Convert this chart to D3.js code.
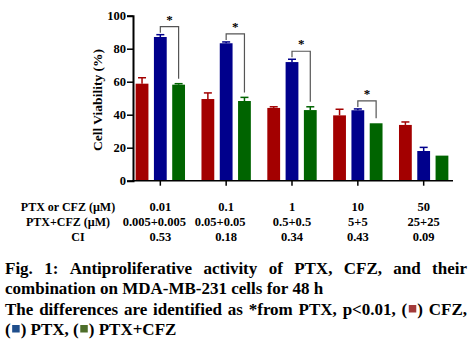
<!DOCTYPE html>
<html><head><meta charset="utf-8">
<script src="https://cdn.jsdelivr.net/npm/d3@7"></script>
<style>body{margin:0;background:#fff}svg{display:block}text{font-family:"Liberation Serif","Times New Roman",serif;font-weight:bold}</style>
</head><body>
<svg id="c" width="473" height="342"></svg>
<script>
const groups = ["0.01","0.1","1","10","50"];
const comboLabels = ["0.005+0.005","0.05+0.05","0.5+0.5","5+5","25+25"];
const ciLabels = ["0.53","0.18","0.34","0.43","0.09"];
const rowLabels = ["PTX or CFZ (µM)","PTX+CFZ (µM)","CI"];
const seriesNames = ["CFZ","PTX","PTX+CFZ"];
const cfz = [58.8, 49.5, 44.1, 39.6, 33.8];
const cfzErr = [3.6, 3.7, 0.7, 3.7, 1.8];
const ptx = [87.1, 83.3, 71.9, 42.7, 18.0];
const ptxErr = [1.4, 0.8, 1.7, 0.8, 2.2];
const combo = [58.2, 48.3, 42.8, 34.8, 15.2];
const comboErr = [0.6, 2.2, 2.0, 0, 0];
const significant = [true, true, true, true, false];
const yTicks = [0,20,40,60,80,100];

const barColors = ["#a30000","#00008c","#006400"];
const legendColors = ["#a33a3a","#1f4e8c","#4e6e2a"];
const FONT = "Liberation Serif";
const svg = d3.select("#c");
const x0 = d3.scaleBand().domain(groups).range([133, 451]).paddingInner(0.25).paddingOuter(0.04);
const x1 = d3.scaleBand().domain(seriesNames).range([0, x0.bandwidth()]).paddingInner(0.3);
const y = d3.scaleLinear().domain([0,100]).range([180.7, 15.7]);
const vals = [cfz, ptx, combo], errs = [cfzErr, ptxErr, comboErr];
function T(sel){return sel.attr("font-family",FONT).attr("font-weight","bold").attr("fill","#000");}

// bars
groups.forEach((g,i)=>{
  seriesNames.forEach((s,j)=>{
    const bx = x0(g)+x1(s), w = x1.bandwidth(), v = vals[j][i], e = errs[j][i];
    svg.append("rect").attr("x",bx).attr("y",y(v)).attr("width",w).attr("height",y(0)-y(v)).attr("fill",barColors[j]);
    if (e>0){
      const cx = bx+w/2;
      svg.append("line").attr("x1",cx).attr("x2",cx).attr("y1",y(v)).attr("y2",y(v+e)).attr("stroke",barColors[j]).attr("stroke-width",1.5);
      svg.append("line").attr("x1",cx-4).attr("x2",cx+4).attr("y1",y(v+e)).attr("y2",y(v+e)).attr("stroke",barColors[j]).attr("stroke-width",1.5);
    }
  });
});
// brackets
groups.forEach((g,i)=>{
  if(!significant[i]) return;
  const w = x1.bandwidth();
  const xl = x0(g)+x1("PTX")+w/2, xr = x0(g)+x1("PTX+CFZ")+w/2;
  const topL = y(ptx[i]+ptxErr[i]), topR = y(combo[i]+comboErr[i]);
  const yt = topL-8;
  svg.append("path").attr("d",`M${xl},${topL-2}V${yt}H${xr}V${topR-5}`).attr("fill","none").attr("stroke","#555").attr("stroke-width",1.2);
  T(svg.append("text")).attr("x",(xl+xr)/2).attr("y",yt-3).attr("text-anchor","middle").attr("font-size",13).text("*");
});
// axes
const yAxis = svg.append("g").attr("transform","translate(133,0)").call(d3.axisLeft(y).tickValues(yTicks).tickSize(6).tickPadding(1));
yAxis.attr("font-family",FONT);
yAxis.select(".domain").attr("stroke","#000").attr("stroke-width",2);
yAxis.selectAll(".tick line").attr("stroke","#000").attr("stroke-width",1.5);
T(yAxis.selectAll("text")).attr("font-size",12.5);
svg.append("line").attr("x1",132).attr("x2",453).attr("y1",y(0)).attr("y2",y(0)).attr("stroke","#000").attr("stroke-width",1.5);
groups.forEach(g=>{
  const cx = x0(g)+x1("PTX")+x1.bandwidth()/2;
  svg.append("line").attr("x1",cx).attr("x2",cx).attr("y1",y(0)).attr("y2",y(0)+5).attr("stroke","#000").attr("stroke-width",1.5);
});
T(svg.append("text")).attr("transform","translate(97,100) rotate(-90)").attr("text-anchor","middle").attr("dy","0.35em").attr("font-size",13.5).text("Cell Viability (%)");

// table rows
const rows = [[rowLabels[0],groups,206.7],[rowLabels[1],comboLabels,221.7],[rowLabels[2],ciLabels,236.7]];
rows.forEach(([lab,arr,yy],k)=>{
  T(svg.append("text")).attr("x",k===2?78:68).attr("y",yy).attr("dy","0.35em").attr("text-anchor","middle").attr("font-size",12).text(lab);
  arr.forEach((t,i)=>{
    const cx = x0(groups[i])+x1("PTX")+x1.bandwidth()/2 - (k===1 && i<2 ? 6 : 0);
    T(svg.append("text")).attr("x",cx).attr("y",yy).attr("dy","0.35em").attr("text-anchor","middle").attr("font-size",12.5).text(t);
  });
});

// caption
const fs = 17;
function measure(t){const n=T(svg.append("text")).attr("font-size",fs).text(t);const w=n.node().getComputedTextLength();n.remove();return w;}
const spaceW = measure("a a")-measure("aa");
function line(tokens, yy, justify){
  const pw = measure("("), cw = measure(")");
  const widths = tokens.map(w=> typeof w==="string"?measure(w):pw+cw+10);
  const total = widths.reduce((a,b)=>a+b,0);
  const left=5,right=467;
  const gap = justify ? (right-left-total)/(tokens.length-1) : spaceW;
  let xx=left;
  tokens.forEach((w,i)=>{
    if(typeof w==="string"){
      T(svg.append("text")).attr("x",xx).attr("y",yy).attr("font-size",fs).text(w);
    } else {
      T(svg.append("text")).attr("x",xx).attr("y",yy).attr("font-size",fs).text("(");
      svg.append("rect").attr("x",xx+pw+1.5).attr("y",yy-10).attr("width",7.5).attr("height",7.5).attr("fill",w.sq);
      T(svg.append("text")).attr("x",xx+pw+10).attr("y",yy).attr("font-size",fs).text(")");
    }
    xx += widths[i]+gap;
  });
}
line("Fig. 1: Antiproliferative activity of PTX, CFZ, and their".split(" "),274,true);
line("combination on MDA-MB-231 cells for 48 h".split(" "),294,false);
line(["The","differences","are","identified","as","*from","PTX,","p<0.01,",{sq:legendColors[0]},"CFZ,"],315,true);
line([{sq:legendColors[1]},"PTX,",{sq:legendColors[2]},"PTX+CFZ"],335,false);
</script>
</body></html>
